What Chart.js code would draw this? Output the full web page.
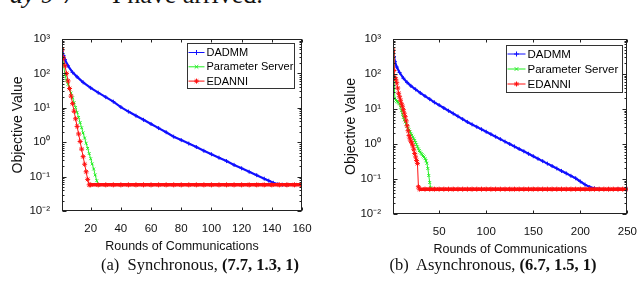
<!DOCTYPE html>
<html>
<head>
<meta charset="utf-8">
<script src="https://cdn.jsdelivr.net/npm/chart.js@4.4.1/dist/chart.umd.min.js"></script>
<style>
  body { margin: 0; width: 640px; height: 287px; overflow: hidden; background: #fff; position: relative; }
  canvas { position: absolute; top: 0; }
  #syncChart { left: 0; }
  #asyncChart { left: 320px; }
  .cap { position: absolute; top: 255px; font: 16.5px 'Liberation Serif', 'Times New Roman', serif; line-height: 20px; white-space: nowrap; transform: translateX(-50%); color: #111; }
  .top { position: absolute; top: -20px; font: 26px 'Liberation Serif', serif; line-height: 30px; white-space: nowrap; color: #111; }
</style>
</head>
<body>
<div class="top" style="left:10px"><i>ay 9-7</i></div>
<div class="top" style="left:112px">I have arrived.</div>
<canvas id="syncChart" width="320" height="287"></canvas>
<canvas id="asyncChart" width="320" height="287"></canvas>
<div class="cap" style="left:200px">(a)&nbsp; Synchronous, <b>(7.7, 1.3, 1)</b></div>
<div class="cap" style="left:493px">(b)&nbsp; Asynchronous, <b>(6.7, 1.5, 1)</b></div>
<script>
(() => {
  'use strict'

  // tick labels
  const yTicks = [0.01, 0.1, 1, 10, 100, 1000]
  const yTickLabels = ['10\u207B\u00B2', '10\u207B\u00B9', '10\u2070', '10\u00B9', '10\u00B2', '10\u00B3']
  const syncXTicks = [20, 40, 60, 80, 100, 120, 140, 160]
  const asyncXTicks = [50, 100, 150, 200, 250]

  // (a) synchronous
  const syncDadmmRounds = [1, 2, 3, 5, 8, 11, 15, 20, 25, 30, 35, 40, 45, 50, 55, 60, 65, 70, 75, 80, 85, 90, 95, 100, 105, 110, 115, 120, 125, 130, 135, 138, 141, 144, 147, 150, 155, 160]
  const syncDadmm = [480, 331, 251, 166, 107, 79.4, 55, 38, 27.5, 20.4, 15.1, 10.5, 7.76, 5.89, 4.47, 3.39, 2.57, 1.95, 1.45, 1.15, 0.912, 0.724, 0.562, 0.447, 0.355, 0.282, 0.219, 0.174, 0.138, 0.110, 0.087, 0.076, 0.066, 0.060, 0.058, 0.0575, 0.0575, 0.0575]
  const syncPsRounds = [1, 2, 3, 4, 5, 6, 7, 8, 9, 10, 11, 12, 13, 14, 15, 16, 17, 18, 19, 20, 21, 22, 23, 24, 25, 30, 40, 50, 60, 70, 80, 90, 100, 110, 120, 130, 140, 150, 160]
  const syncPs = [479, 178, 89.1, 63.1, 47.9, 36.3, 26.9, 19.5, 14.1, 10.2, 7.41, 5.25, 3.72, 2.63, 1.86, 1.32, 0.933, 0.661, 0.468, 0.331, 0.234, 0.166, 0.112, 0.0759, 0.0575, 0.0575, 0.0575, 0.0575, 0.0575, 0.0575, 0.0575, 0.0575, 0.0575, 0.0575, 0.0575, 0.0575, 0.0575, 0.0575, 0.0575]
  const syncEdanniRounds = [1, 2, 3, 4, 5, 6, 7, 8, 9, 10, 11, 12, 13, 14, 15, 16, 17, 18, 19, 20, 25, 30, 35, 40, 45, 50, 55, 60, 65, 70, 75, 80, 85, 90, 95, 100, 105, 110, 115, 120, 125, 130, 135, 140, 145, 150, 155, 160]
  const syncEdanni = [479, 282, 166, 100, 60.3, 36.3, 21.9, 13.2, 7.94, 4.79, 2.88, 1.74, 1.05, 0.631, 0.380, 0.229, 0.138, 0.083, 0.0575, 0.0575, 0.0575, 0.0575, 0.0575, 0.0575, 0.0575, 0.0575, 0.0575, 0.0575, 0.0575, 0.0575, 0.0575, 0.0575, 0.0575, 0.0575, 0.0575, 0.0575, 0.0575, 0.0575, 0.0575, 0.0575, 0.0575, 0.0575, 0.0575, 0.0575, 0.0575, 0.0575, 0.0575, 0.0575]

  // (b) asynchronous
  const asyncDadmmRounds = [1, 2, 3, 5, 8, 12, 16, 20, 25, 30, 35, 40, 45, 50, 55, 60, 65, 70, 75, 80, 85, 90, 95, 100, 105, 110, 115, 120, 125, 130, 135, 140, 145, 150, 155, 160, 165, 170, 175, 180, 185, 190, 195, 200, 205, 210, 215, 220, 230, 240, 250]
  const asyncDadmm = [479, 316, 229, 158, 110, 75.9, 57.5, 45.7, 36.3, 28.8, 23.4, 19.1, 15.5, 12.9, 10.7, 8.91, 7.41, 6.17, 5.13, 4.27, 3.63, 3.09, 2.63, 2.24, 1.91, 1.62, 1.38, 1.17, 1.0, 0.851, 0.724, 0.617, 0.525, 0.447, 0.380, 0.324, 0.275, 0.234, 0.200, 0.170, 0.145, 0.123, 0.105, 0.085, 0.069, 0.059, 0.054, 0.0513, 0.0513, 0.0513, 0.0513]
  const asyncPsRounds = [1, 2, 3, 4, 5, 6, 7, 8, 9, 10, 11, 12, 13, 14, 15, 16, 17, 18, 19, 20, 21, 22, 23, 24, 25, 26, 27, 28, 29, 30, 31, 32, 33, 34, 35, 36, 37, 38, 39, 40, 41, 42, 50, 100, 150, 200, 250]
  const asyncPs = [479, 79.4, 20.0, 17.8, 16.6, 15.8, 15.1, 14.1, 11.2, 8.91, 7.08, 5.75, 4.90, 4.27, 3.72, 3.16, 2.82, 2.51, 2.24, 2.0, 1.78, 1.58, 1.41, 1.26, 1.10, 0.955, 0.832, 0.724, 0.646, 0.589, 0.537, 0.501, 0.457, 0.427, 0.380, 0.331, 0.282, 0.200, 0.126, 0.0794, 0.0562, 0.0513, 0.0513, 0.0513, 0.0513, 0.0513, 0.0513]
  const asyncEdanniRounds = [1, 2, 3, 4, 5, 6, 7, 8, 9, 10, 11, 12, 13, 14, 15, 16, 17, 18, 19, 20, 21, 22, 23, 24, 25, 26, 27, 28, 29, 35, 40, 45, 50, 55, 60, 65, 70, 75, 80, 85, 90, 95, 100, 105, 110, 115, 120, 125, 130, 135, 140, 145, 150, 155, 160, 165, 170, 175, 180, 185, 190, 195, 200, 205, 210, 215, 220, 225, 230, 235, 240, 245, 250]
  const asyncEdanni = [479, 126, 79.4, 70.8, 56.2, 39.8, 28.2, 22.4, 17.8, 14.1, 12.0, 9.55, 7.59, 6.03, 4.57, 3.31, 2.40, 1.74, 1.41, 1.20, 1.07, 0.891, 0.708, 0.537, 0.427, 0.339, 0.275, 0.060, 0.0513, 0.0513, 0.0513, 0.0513, 0.0513, 0.0513, 0.0513, 0.0513, 0.0513, 0.0513, 0.0513, 0.0513, 0.0513, 0.0513, 0.0513, 0.0513, 0.0513, 0.0513, 0.0513, 0.0513, 0.0513, 0.0513, 0.0513, 0.0513, 0.0513, 0.0513, 0.0513, 0.0513, 0.0513, 0.0513, 0.0513, 0.0513, 0.0513, 0.0513, 0.0513, 0.0513, 0.0513, 0.0513, 0.0513, 0.0513, 0.0513, 0.0513, 0.0513, 0.0513, 0.0513]

  const FONT = "'Liberation Sans', Arial, Helvetica, sans-serif"
  const INK = '#111'
  const BLUE = '#1010ff'
  const GREEN = '#22ee22'
  const RED = '#ff1010'

  const pts = (xs, ys) => xs.map((x, i) => ({ x: x, y: ys[i] }))
  const flat = c => Math.abs(c.p0.parsed.y - c.p1.parsed.y) < 1e-9

  function series (label, color, style, radius, xs, ys, order, width, flatWidth) {
    return {
      label: label,
      data: pts(xs, ys),
      borderColor: color,
      backgroundColor: color,
      pointBackgroundColor: color,
      pointBorderColor: color,
      pointStyle: style,
      pointRadius: radius,
      pointBorderWidth: 1,
      borderWidth: width,
      tension: 0,
      order: order,
      segment: { borderWidth: c => flat(c) ? flatWidth : width }
    }
  }

  // MATLAB-like box with inward ticks
  const matlabFrame = {
    id: 'matlabFrame',
    afterDatasetsDraw (chart) {
      const { ctx, chartArea: a, scales: { x, y } } = chart
      const L = Math.round(a.left) + 0.5
      const R = Math.round(a.right) - 0.5
      const T = Math.round(a.top) + 0.5
      const B = Math.round(a.bottom) - 0.5
      ctx.save()
      ctx.strokeStyle = '#222'
      ctx.lineWidth = 1
      ctx.strokeRect(L, T, R - L, B - T)
      ctx.beginPath()
      x.ticks.forEach(t => {
        const px = Math.round(x.getPixelForValue(t.value)) + 0.5
        ctx.moveTo(px, B); ctx.lineTo(px, B - 3)
        ctx.moveTo(px, T); ctx.lineTo(px, T + 3)
      })
      yTicks.forEach((d, i) => {
        for (let k = 1; k <= 9; k++) {
          if (i === yTicks.length - 1 && k > 1) break
          const py = Math.round(y.getPixelForValue(d * k)) + 0.5
          const len = k === 1 ? 4 : 2
          ctx.moveTo(L, py); ctx.lineTo(L + len, py)
          ctx.moveTo(R, py); ctx.lineTo(R - len, py)
        }
      })
      ctx.stroke()
      ctx.restore()
    }
  }

  // legend box drawn inside the plot, top right
  const insetLegend = {
    id: 'insetLegend',
    afterDraw (chart, args, o) {
      const { ctx, chartArea: a } = chart
      const left = Math.round(a.right - o.right - o.width) + 0.5
      const top = Math.round(a.top + o.top) + 0.5
      ctx.save()
      ctx.fillStyle = '#fff'
      ctx.fillRect(left, top, o.width, o.height)
      ctx.strokeStyle = '#333'
      ctx.lineWidth = 1
      ctx.strokeRect(left, top, o.width, o.height)
      ctx.font = o.fontSize + 'px ' + FONT
      ctx.textBaseline = 'middle'
      chart.data.datasets.forEach((ds, i) => {
        const cy = top + o.first + i * o.step
        ctx.strokeStyle = ds.borderColor
        ctx.fillStyle = ds.borderColor
        ctx.lineWidth = 1
        ctx.beginPath()
        ctx.moveTo(left + 1, cy); ctx.lineTo(left + o.line, cy)
        ctx.stroke()
        Chart.helpers.drawPoint(ctx, { pointStyle: ds.pointStyle, radius: 2.5, borderWidth: 1, rotation: 0 }, left + 1 + (o.line - 1) / 2, cy)
        ctx.fillStyle = '#000'
        ctx.fillText(ds.label, left + o.line + 2, cy + 0.5)
      })
      ctx.restore()
    }
  }

  function makeOptions (xTicks, xMax, yWidth, xHeight, padding, legend) {
    return {
      responsive: false,
      animation: false,
      layout: { padding: padding },
      plugins: { legend: { display: false }, tooltip: { enabled: false }, insetLegend: legend },
      scales: {
        x: {
          type: 'linear',
          min: 1,
          max: xMax,
          afterBuildTicks: s => { s.ticks = xTicks.map(v => ({ value: v })) },
          afterFit: s => { s.height = xHeight },
          grid: { display: false },
          border: { display: false },
          ticks: { autoSkip: false, maxRotation: 0, padding: 3, color: INK, font: { family: FONT, size: 11.5 } },
          title: { display: true, text: 'Rounds of Communications', color: INK, font: { family: FONT, size: 12.5 }, padding: 4 }
        },
        y: {
          type: 'logarithmic',
          min: 0.01,
          max: 1000,
          afterBuildTicks: s => { s.ticks = yTicks.map(v => ({ value: v })) },
          afterFit: s => { s.width = yWidth },
          grid: { display: false },
          border: { display: false },
          ticks: { autoSkip: false, padding: 4, color: INK, font: { family: FONT, size: 11.5 }, callback: (v, i) => yTickLabels[i] },
          title: { display: true, text: 'Objective Value', color: INK, font: { family: FONT, size: 14 }, padding: 4 }
        }
      }
    }
  }

  // eslint-disable-next-line no-unused-vars
  const syncChart = new Chart(document.getElementById('syncChart'), {
    type: 'line',
    data: {
      datasets: [
        series('DADMM', BLUE, 'cross', 2, syncDadmmRounds, syncDadmm, 2, 2.2, 2.2),
        series('Parameter Server', GREEN, 'crossRot', 2, syncPsRounds, syncPs, 1, 1, 1),
        series('EDANNI', RED, 'star', 2.5, syncEdanniRounds, syncEdanni, 0, 1, 3.5)
      ]
    },
    options: makeOptions(syncXTicks, 160, 56, 47.5, { left: 6, right: 18, top: 39, bottom: 28.5 },
      { right: 8, top: 4, width: 107, height: 45, first: 9, step: 14.3, line: 17, fontSize: 11 }),
    plugins: [matlabFrame, insetLegend]
  })

  // eslint-disable-next-line no-unused-vars
  const asyncChart = new Chart(document.getElementById('asyncChart'), {
    type: 'line',
    data: {
      datasets: [
        series('DADMM', BLUE, 'cross', 2, asyncDadmmRounds, asyncDadmm, 2, 2.2, 2.2),
        series('Parameter Server', GREEN, 'crossRot', 2, asyncPsRounds, asyncPs, 1, 1, 1),
        series('EDANNI', RED, 'star', 2.5, asyncEdanniRounds, asyncEdanni, 0, 1, 3.5)
      ]
    },
    options: makeOptions(asyncXTicks, 250, 54, 47.5, { left: 19, right: 6, top: 39, bottom: 25.5 },
      { right: 5, top: 6, width: 116, height: 47, first: 8.5, step: 15, line: 19, fontSize: 11.5 }),
    plugins: [matlabFrame, insetLegend]
  })
})()
</script>
</body>
</html>
